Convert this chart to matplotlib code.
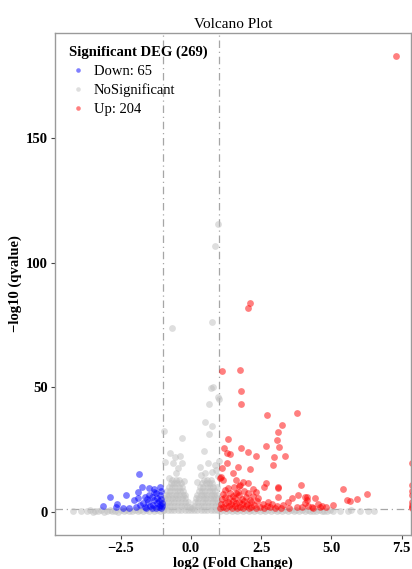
import matplotlib
matplotlib.use("Agg")
import matplotlib.pyplot as plt
from matplotlib.lines import Line2D

plt.rcParams['font.family'] = ['Liberation Serif', 'DejaVu Serif']

# values: (log2 fold change, -log10 qvalue)
up_points = [
    (7.3, 183), (2.10, 83.7), (2.02, 81.8), (1.10, 56.5), (1.74, 56.9), (1.77, 48.4),
    (1.77, 43.2), (2.72, 38.8), (3.77, 39.8), (3.23, 34.9), (3.11, 32.1), (1.33, 29.4),
    (3.05, 28.7), (1.19, 25.5), (1.79, 25.5), (2.66, 26.3), (3.14, 26.1), (2.04, 23.9),
    (1.27, 23.5), (1.39, 23.3), (2.32, 22.5), (2.95, 22.2), (3.35, 22.6), (1.27, 19.5),
    (1.66, 18.2), (2.10, 17.1), (2.91, 18.8), (1.09, 17.5), (1.03, 13.5), (1.51, 15.5),
    (1.06, 14.2), (1.86, 12.2), (2.04, 11.5), (1.60, 12.8), (1.15, 12.8), (2.66, 11.5),
    (2.61, 9.9), (3.11, 10.2), (3.91, 10.8), (3.09, 9.5), (1.71, 10.4), (1.54, 10.2),
    (1.74, 10.8), (1.21, 8.8), (1.68, 8.1), (2.04, 7.5), (3.80, 6.8), (4.06, 6.1),
    (3.11, 6.1), (2.75, 4.1), (2.40, 5.5), (3.46, 4.1), (3.58, 5.5), (3.29, 2.8),
    (4.06, 3.5), (4.29, 2.1), (3.76, 2.1), (4.12, 6.1), (4.12, 4.8), (4.41, 5.7),
    (5.42, 9.4), (5.57, 4.8), (5.66, 4.5), (5.90, 5.1), (6.25, 7.3), (4.53, 3.2),
    (4.65, 2.4), (4.80, 2.1), (5.04, 2.8), (4.17, 2.4), (3.94, 2.1), (4.35, 1.5),
    (4.59, 1.9), (7.86, 19.5), (7.86, 10.7), (7.86, 8.5), (7.86, 6.8), (7.86, 4.1),
    (7.86, 3.0), (7.86, 2.1), (7.86, 1.5),
    (1.05, 1.6), (1.15, 2.2), (1.25, 1.7), (1.35, 2.5), (1.45, 1.8), (1.55, 2.3),
    (1.65, 1.6), (1.75, 2.1), (1.85, 1.7), (1.95, 2.4), (2.05, 1.8), (2.15, 2.2),
    (2.30, 1.7), (2.45, 2.0), (2.60, 1.6), (2.80, 1.9), (3.00, 1.6), (3.20, 1.8),
    (3.50, 1.6), (1.08, 3.2), (1.20, 3.6), (1.30, 4.2), (1.42, 3.3), (1.50, 4.6),
    (1.60, 3.5), (1.70, 4.0), (1.82, 3.2), (1.90, 4.4), (2.00, 3.4), (2.12, 3.9),
    (2.25, 3.0), (2.35, 4.3), (2.55, 3.1), (2.70, 2.6), (2.90, 3.3), (3.05, 2.4),
    (1.10, 5.2), (1.22, 6.0), (1.35, 5.5), (1.48, 6.6), (1.58, 5.8), (1.70, 6.9),
    (1.80, 5.4), (1.95, 6.2), (2.10, 5.0), (2.20, 6.5), (1.15, 7.2), (1.40, 7.8),
    (1.62, 7.6), (1.88, 8.6), (2.30, 7.9), (1.30, 9.6), (2.20, 9.2),
]

down_points = [
    (-1.86, 15.4), (-2.87, 5.9), (-3.12, 2.4), (-2.62, 3.3), (-2.30, 6.8), (-2.03, 4.7),
    (-1.87, 7.9), (-1.73, 9.9), (-1.48, 9.5), (-1.31, 9.4), (-1.10, 10.2), (-1.64, 6.1),
    (-1.52, 4.1), (-1.31, 4.8), (-1.22, 3.5), (-1.10, 6.8), (-1.13, 2.1), (-1.81, 2.8),
    (-1.64, 2.0), (-1.39, 6.1), (-1.25, 7.5), (-1.04, 3.5), (-2.41, 1.5), (-2.66, 2.2),
    (-1.05, 5.2), (-1.15, 4.3), (-1.20, 5.8), (-1.35, 3.0), (-1.45, 2.4), (-1.55, 5.2),
    (-1.70, 3.8), (-1.95, 2.0), (-1.08, 1.8), (-1.25, 1.6), (-1.40, 1.7), (-1.60, 1.5),
    (-1.90, 5.5), (-1.48, 7.0), (-1.07, 8.5), (-1.30, 8.2), (-2.20, 1.7), (-1.02, 2.6),
    (-1.12, 3.0),
]

ns_points = [
    # sparse points above the cloud
    (0.97, 115.5), (0.85, 106.7), (0.74, 76.2), (-0.66, 73.6), (0.71, 49.6), (0.79, 50.3),
    (0.95, 46.2), (0.99, 45.3), (0.64, 43.3), (-0.97, 32.6), (0.50, 36.0), (0.75, 34.5),
    (0.63, 31.3), (-0.33, 29.5), (0.46, 24.6), (-0.75, 23.8), (-0.57, 22.2), (-0.39, 22.5),
    (-0.63, 19.5), (-0.33, 19.5), (-0.45, 17.5), (-0.93, 20.2), (0.32, 18.2), (0.62, 19.5),
    (0.85, 18.8), (0.74, 16.2), (0.50, 15.5), (-0.55, 15.5), (-0.80, 13.5), (-0.25, 12.5),
    (0.20, 12.0), (0.35, 14.8), (0.95, 14.5), (0.90, 17.0), (0.98, 20.5),
    # left lobe
    (-0.95, 1.0), (-0.83, 1.0), (-0.71, 1.0), (-0.59, 1.0), (-0.47, 1.0), (-0.35, 1.0),
    (-0.23, 1.0), (-0.11, 1.0), (-0.97, 2.5), (-0.85, 2.5), (-0.73, 2.5), (-0.61, 2.5),
    (-0.49, 2.5), (-0.37, 2.5), (-0.25, 2.5), (-0.13, 2.5), (-0.95, 4.0), (-0.83, 4.0),
    (-0.71, 4.0), (-0.59, 4.0), (-0.47, 4.0), (-0.35, 4.0), (-0.23, 4.0), (-0.12, 4.0),
    (-0.93, 5.5), (-0.81, 5.5), (-0.69, 5.5), (-0.57, 5.5), (-0.45, 5.5), (-0.33, 5.5),
    (-0.21, 5.5), (-0.90, 7.0), (-0.78, 7.0), (-0.66, 7.0), (-0.54, 7.0), (-0.42, 7.0),
    (-0.30, 7.0), (-0.20, 7.0), (-0.86, 8.5), (-0.74, 8.5), (-0.62, 8.5), (-0.50, 8.5),
    (-0.38, 8.5), (-0.27, 8.5), (-0.80, 10.0), (-0.68, 10.0), (-0.56, 10.0), (-0.44, 10.0),
    (-0.33, 10.0), (-0.72, 11.5), (-0.60, 11.5), (-0.48, 11.5), (-0.37, 11.5), (-0.66, 13.0),
    (-0.54, 13.0), (-0.42, 13.0), (0.00, 1.0), (-0.03, 2.0), (0.03, 1.5),
    # right lobe
    (0.10, 1.0), (0.22, 1.0), (0.34, 1.0), (0.46, 1.0), (0.58, 1.0), (0.70, 1.0),
    (0.82, 1.0), (0.94, 1.0), (0.12, 2.5), (0.24, 2.5), (0.36, 2.5), (0.48, 2.5),
    (0.60, 2.5), (0.72, 2.5), (0.84, 2.5), (0.96, 2.5), (0.14, 4.0), (0.26, 4.0),
    (0.38, 4.0), (0.50, 4.0), (0.62, 4.0), (0.74, 4.0), (0.86, 4.0), (0.97, 4.0),
    (0.18, 5.5), (0.30, 5.5), (0.42, 5.5), (0.54, 5.5), (0.66, 5.5), (0.78, 5.5),
    (0.90, 5.5), (0.22, 7.0), (0.34, 7.0), (0.46, 7.0), (0.58, 7.0), (0.70, 7.0),
    (0.82, 7.0), (0.94, 7.0), (0.27, 8.5), (0.39, 8.5), (0.51, 8.5), (0.63, 8.5),
    (0.75, 8.5), (0.87, 8.5), (0.32, 10.0), (0.44, 10.0), (0.56, 10.0), (0.68, 10.0),
    (0.80, 10.0), (0.92, 10.0), (0.40, 11.5), (0.52, 11.5), (0.64, 11.5), (0.76, 11.5),
    (0.46, 13.0), (0.58, 13.0), (0.70, 13.0),
    # band near zero, left side
    (-4.2, 0.6), (-3.9, 0.4), (-3.7, 0.3), (-3.6, 0.8), (-3.5, 0.2), (-3.4, 0.6),
    (-3.3, 0.3), (-3.2, 0.9), (-3.1, 0.2), (-3.0, 0.5), (-2.9, 0.8), (-2.8, 0.3),
    (-2.7, 0.6), (-2.6, 0.2), (-2.5, 0.7), (-2.4, 0.4), (-2.3, 0.9), (-2.2, 0.3),
    (-2.1, 0.6), (-2.0, 1.0), (-1.9, 0.4), (-1.8, 0.8), (-1.7, 0.3), (-1.6, 0.9),
    (-1.5, 0.5), (-1.4, 1.1), (-1.3, 0.4), (-1.2, 0.8), (-1.1, 0.3), (-1.0, 1.0),
    # band near zero, right side
    (1.05, 0.3), (1.15, 0.9), (1.25, 0.4), (1.35, 1.0), (1.45, 0.3), (1.55, 0.8),
    (1.65, 0.4), (1.75, 1.0), (1.85, 0.3), (1.95, 0.9), (2.05, 0.5), (2.15, 1.0),
    (2.25, 0.3), (2.35, 0.8), (2.45, 0.4), (2.55, 1.0), (2.65, 0.3), (2.75, 0.8),
    (2.85, 0.5), (2.95, 1.0), (3.05, 0.3), (3.15, 0.8), (3.25, 0.4), (3.35, 0.9),
    (3.45, 0.3), (3.55, 0.7), (3.65, 0.4), (3.75, 0.9), (3.85, 0.3), (3.95, 0.7),
    (4.05, 0.4), (4.15, 0.9), (4.25, 0.3), (4.35, 0.6), (4.45, 0.4), (4.55, 0.8),
    (4.65, 0.3), (4.75, 0.6), (4.85, 0.4), (4.95, 0.7), (5.05, 0.3), (5.3, 0.5),
    (5.6, 0.4), (5.7, 0.8), (6.0, 0.3), (6.3, 0.6), (6.5, 0.4),
]

legend_title = 'Significant DEG (269)'
legend_labels = ['Down: 65', 'NoSignificant', 'Up: 204']
colors = ['#0000ff', '#bebebe', '#ff0000']

fc_cut = 1
q_cut = 1.30103

fig = plt.figure(figsize=(4.12, 5.69), dpi=100)
ax = fig.add_axes([0.1335, 0.0598, 0.864, 0.882])

for pts, col in [(ns_points, colors[1]), (down_points, colors[0]), (up_points, colors[2])]:
    xs, ys = zip(*pts)
    ax.scatter(xs, ys, s=24, c=col, alpha=0.5, linewidths=0, zorder=2)

dash = (0, (6, 3, 1, 3))
for v in (-fc_cut, fc_cut):
    ax.axvline(v, color='#a6a6a6', lw=0.9, ls=dash, zorder=1)
ax.axhline(q_cut, color='#a6a6a6', lw=0.9, ls=dash, zorder=1)

ax.set_xlim(-4.84, 7.83)
ax.set_ylim(-9.2, 192)
ax.set_xticks([-2.5, 0, 2.5, 5, 7.5])
ax.set_xticklabels(['\u22122.5', '0.0', '2.5', '5.0', '7.5'])
ax.set_yticks([0, 50, 100, 150])

for s in ax.spines.values():
    s.set_color('#9a9a9a')
    s.set_linewidth(1.0)
ax.tick_params(length=3, width=0.8, color='#444444', pad=2, labelsize=10.5)
for lab in ax.get_xticklabels() + ax.get_yticklabels():
    lab.set_fontweight('bold')

ax.set_xlabel('log2 (Fold Change)', fontsize=10.5, fontweight='bold', labelpad=1)
ax.set_ylabel('\u2212log10 (qvalue)', fontsize=10.5, fontweight='bold', labelpad=3)
ax.set_title('Volcano Plot', fontsize=11, pad=4, x=0.5)

handles = [Line2D([], [], ls='none', marker='o', markersize=3.3, markeredgewidth=0,
                  color=c, alpha=0.5) for c in colors]
leg = ax.legend(handles, legend_labels, title=legend_title, loc='upper left',
                bbox_to_anchor=(0.01, 0.995), frameon=False, fontsize=10.5,
                title_fontproperties={'weight': 'bold', 'size': 10.5},
                labelspacing=0.38, handletextpad=0.5, handlelength=1.2,
                borderaxespad=0.3)
leg._legend_box.align = 'left'

fig.savefig('out.png', dpi=100)
